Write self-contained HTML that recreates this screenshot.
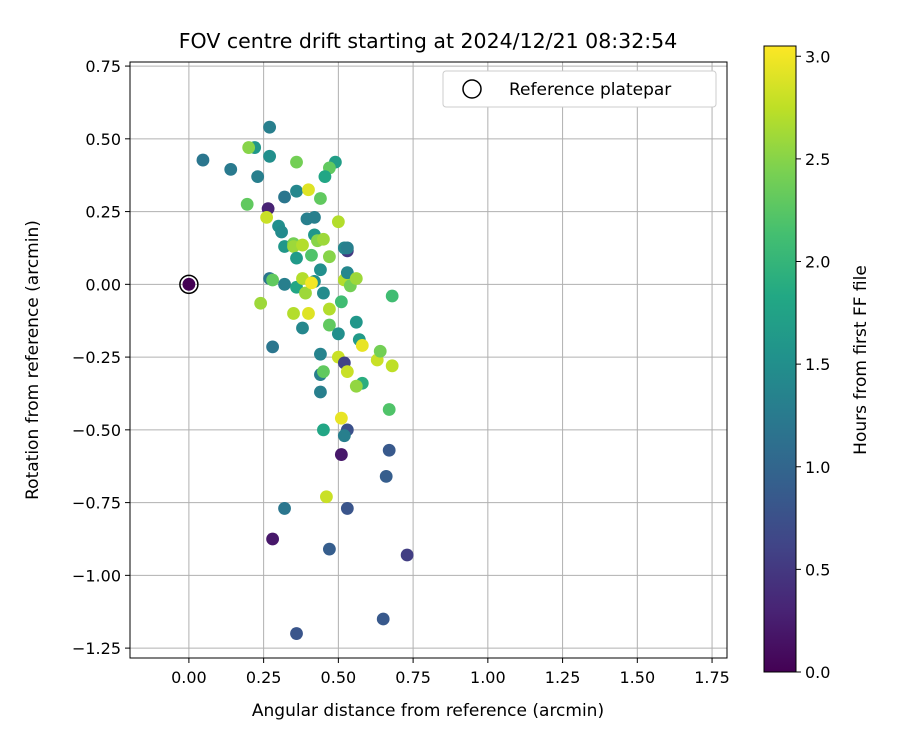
<!DOCTYPE html>
<html><head><meta charset="utf-8"><style>
body{margin:0;background:#fff;}
svg text{font-family:"DejaVu Sans","Liberation Sans",sans-serif;fill:#000;}
</style></head><body>
<svg id="chart" width="900" height="750" xmlns="http://www.w3.org/2000/svg">
<defs>
<linearGradient id="vir" x1="0" y1="1" x2="0" y2="0">
<stop offset="0" stop-color="#440154"/><stop offset="0.1" stop-color="#482475"/><stop offset="0.2" stop-color="#414487"/><stop offset="0.3" stop-color="#355f8d"/><stop offset="0.4" stop-color="#2a788e"/><stop offset="0.5" stop-color="#21918c"/><stop offset="0.6" stop-color="#22a884"/><stop offset="0.7" stop-color="#44bf70"/><stop offset="0.8" stop-color="#7ad151"/><stop offset="0.9" stop-color="#bddf26"/><stop offset="1" stop-color="#fde725"/>
</linearGradient>
</defs>
<text x="428" y="48" font-size="20.5" text-anchor="middle">FOV centre drift starting at 2024/12/21 08:32:54</text>
<g id="grid"></g>
<g id="ticks"></g>
<g id="points"></g>
<rect x="130" y="62" width="597" height="596" fill="none" stroke="#000" stroke-width="1"/>
<text x="428" y="716" font-size="17" text-anchor="middle">Angular distance from reference (arcmin)</text>
<text x="38" y="360" font-size="17" text-anchor="middle" transform="rotate(-90 38 360)">Rotation from reference (arcmin)</text>
<g>
<rect x="443" y="71" width="273" height="36" rx="3" fill="#fff" stroke="#ccc"/>
<circle cx="472" cy="89" r="9" fill="none" stroke="#000" stroke-width="1.5"/>
<text x="509" y="95" font-size="17">Reference platepar</text>
</g>
<rect x="764" y="46" width="32" height="626" fill="url(#vir)" stroke="#000" stroke-width="1"/>
<g id="cbticks"></g>
<text x="866" y="360" font-size="17" text-anchor="middle" transform="rotate(-90 866 360)">Hours from first FF file</text>
</svg>
<script>
const xTicks=[0,0.25,0.5,0.75,1.0,1.25,1.5,1.75];
const xTickLabels=["0.00","0.25","0.50","0.75","1.00","1.25","1.50","1.75"];
const yTicks=[0.75,0.5,0.25,0,-0.25,-0.5,-0.75,-1.0,-1.25];
const yTickLabels=["0.75","0.50","0.25","0.00","\u22120.25","\u22120.50","\u22120.75","\u22121.00","\u22121.25"];
const cbTicks=[0,0.5,1.0,1.5,2.0,2.5,3.0];
const cbTickLabels=["0.0","0.5","1.0","1.5","2.0","2.5","3.0"];
const xs=[0.047,0.14,0.23,0.27,0.22,0.2,0.27,0.195,0.265,0.26,0.32,0.36,0.36,0.40,0.44,0.49,0.47,0.455,0.395,0.42,0.5,0.3,0.31,0.32,0.35,0.35,0.38,0.42,0.43,0.45,0.36,0.41,0.47,0.53,0.52,0.53,0.27,0.28,0.32,0.36,0.38,0.39,0.42,0.44,0.45,0.51,0.52,0.53,0.54,0.56,0.68,0.24,0.35,0.40,0.47,0.47,0.38,0.5,0.56,0.57,0.58,0.28,0.44,0.5,0.52,0.53,0.63,0.64,0.68,0.44,0.45,0.58,0.56,0.44,0.67,0.51,0.53,0.45,0.52,0.67,0.51,0.66,0.46,0.32,0.53,0.28,0.47,0.73,0.36,0.65,0.41];
const ys=[0.427,0.395,0.37,0.54,0.47,0.47,0.44,0.275,0.26,0.23,0.3,0.42,0.32,0.325,0.295,0.42,0.4,0.37,0.225,0.23,0.215,0.2,0.18,0.13,0.14,0.13,0.135,0.17,0.15,0.155,0.09,0.1,0.095,0.115,0.125,0.125,0.02,0.015,0.0,-0.01,0.02,-0.03,0.01,0.05,-0.03,-0.06,0.015,0.04,-0.005,0.02,-0.04,-0.065,-0.1,-0.1,-0.085,-0.14,-0.15,-0.17,-0.13,-0.19,-0.21,-0.215,-0.24,-0.25,-0.27,-0.3,-0.26,-0.23,-0.28,-0.31,-0.3,-0.34,-0.35,-0.37,-0.43,-0.46,-0.5,-0.5,-0.52,-0.57,-0.585,-0.66,-0.73,-0.77,-0.77,-0.875,-0.91,-0.93,-1.2,-1.15,0.005];
const hours=[1.2,1.25,1.3,1.3,1.6,2.5,1.5,2.3,0.3,2.8,1.2,2.4,1.4,2.9,2.3,1.7,2.3,1.8,1.3,1.3,2.7,1.5,1.45,1.6,2.4,2.6,2.7,1.6,2.5,2.6,1.65,2.2,2.5,0.5,1.4,1.3,1.2,2.3,1.3,1.8,2.7,2.6,1.5,1.5,1.45,2.1,2.7,1.4,2.4,2.6,2.1,2.6,2.7,2.9,2.7,2.3,1.4,1.5,1.6,1.65,2.95,1.2,1.35,2.8,0.6,2.8,2.8,2.4,2.75,1.3,2.3,1.9,2.55,1.3,2.2,2.95,0.75,1.8,1.3,0.85,0.2,0.9,2.8,1.2,0.8,0.2,0.9,0.55,0.8,0.85,3.0];
const refPoint=[0,0,0];

const X0=130,X1=727,Y0=62,Y1=658,xmin=-0.197,xmax=1.8,ymin=-1.284,ymax=0.764;
const sx=v=>X0+(v-xmin)/(xmax-xmin)*(X1-X0);
const sy=v=>Y1-(v-ymin)/(ymax-ymin)*(Y1-Y0);
const cmin=0,cmax=3.05,CB0=672,CB1=46;
const sc=v=>CB0-(v-cmin)/(cmax-cmin)*(CB0-CB1);
const stops=["#440154","#482475","#414487","#355f8d","#2a788e","#21918c","#22a884","#44bf70","#7ad151","#bddf26","#fde725"];
function hex(h){return[1,3,5].map(i=>parseInt(h.substr(i,2),16));}
function vir(v){let t=Math.max(0,Math.min(1,(v-cmin)/(cmax-cmin)))*10;let i=Math.min(9,Math.floor(t)),f=t-i;const a=hex(stops[i]),b=hex(stops[i+1]);return"rgb("+a.map((c,k)=>Math.round(c+(b[k]-c)*f)).join(",")+")";}
const NS="http://www.w3.org/2000/svg";
function mk(tag,attrs,parent){const e=document.createElementNS(NS,tag);for(const k in attrs)e.setAttribute(k,attrs[k]);parent.appendChild(e);return e;}
const grid=document.getElementById("grid"),ticks=document.getElementById("ticks"),pts=document.getElementById("points"),cbt=document.getElementById("cbticks");
xTicks.forEach((v,i)=>{const x=sx(v);
const g=mk("line",{x1:x,x2:x,y1:Y0,y2:Y1,stroke:"#b0b0b0","stroke-width":1},grid);


const t=mk("line",{x1:x,x2:x,y1:Y1,y2:Y1+5,stroke:"#000"},ticks);


const l=mk("text",{x:x,y:Y1+25,"font-size":16,"text-anchor":"middle"},ticks);l.textContent=xTickLabels[i];

});
yTicks.forEach((v,i)=>{const y=sy(v);
const g=mk("line",{x1:X0,x2:X1,y1:y,y2:y,stroke:"#b0b0b0","stroke-width":1},grid);


const t=mk("line",{x1:X0-5,x2:X0,y1:y,y2:y,stroke:"#000"},ticks);


const l=mk("text",{x:X0-9,y:y+6,"font-size":16,"text-anchor":"end"},ticks);l.textContent=yTickLabels[i];

});
cbTicks.forEach((v,i)=>{const y=sc(v);
const t=mk("line",{x1:796,x2:801,y1:y,y2:y,stroke:"#000"},cbt);


const l=mk("text",{x:805,y:y+6,"font-size":16},cbt);l.textContent=cbTickLabels[i];

});
xs.forEach((v,i)=>{const c=mk("circle",{cx:sx(v),cy:sy(ys[i]),r:6.4,fill:vir(hours[i])},pts);

});
const rc=mk("circle",{cx:sx(refPoint[0]),cy:sy(refPoint[1]),r:9,fill:"none",stroke:"#000","stroke-width":1.5},pts);


const rp=mk("circle",{cx:sx(refPoint[0]),cy:sy(refPoint[1]),r:6.4,fill:vir(refPoint[2])},pts);


</script>
</body></html>
